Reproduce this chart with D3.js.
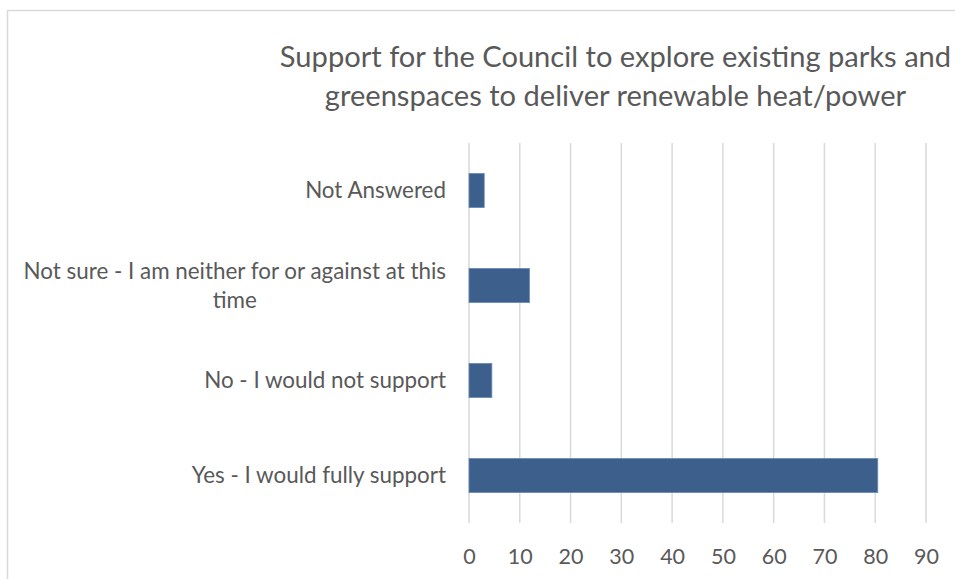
<!DOCTYPE html>
<html>
<head>
<meta charset="utf-8">
<script src="https://cdn.jsdelivr.net/npm/d3@7"></script>
<style>
  html, body { margin: 0; padding: 0; background: #fff; }
  svg { display: block; }
  text { font-family: Lato, Carlito, Calibri, "Open Sans", sans-serif; fill: #595959; }
</style>
</head>
<body>
<svg id="chart" width="955" height="579"></svg>
<script>
// Survey responses (percent of respondents)
const categories = [
  "Not Answered",
  "Not sure - I am neither for or against at this time",
  "No - I would not support",
  "Yes - I would fully support"
];
const values = [3.0, 11.9, 4.5, 80.5];
const xTicks = [0, 10, 20, 30, 40, 50, 60, 70, 80, 90];
const titleLines = [
  "Support for the Council to explore existing parks and",
  "greenspaces to deliver renewable heat/power"
];

const svg = d3.select("#chart");
const W = 955, H = 579;
const plot = { left: 469, right: 926, top: 143, bottom: 523 };

// outer chart frame (extends past the visible window)
svg.append("rect")
  .attr("x", 7.5).attr("y", 10.5)
  .attr("width", W + 20).attr("height", H + 20)
  .attr("fill", "#fff").attr("stroke", "#d9d9d9").attr("stroke-width", 1.5);

// title
svg.append("g").selectAll("text")
  .data(titleLines).join("text")
  .attr("x", 615.5)
  .attr("y", (d, i) => 67 + i * 39)
  .attr("text-anchor", "middle")
  .attr("font-size", 29.1)
  .text(d => d);

const x = d3.scaleLinear().domain([0, 90]).range([plot.left, plot.right]);
const y = d3.scaleBand().domain(categories)
  .range([plot.top, plot.bottom])
  .paddingInner(0.64).paddingOuter(0.32);

// vertical gridlines
svg.append("g").selectAll("line")
  .data(xTicks).join("line")
  .attr("x1", d => x(d)).attr("x2", d => x(d))
  .attr("y1", plot.top).attr("y2", plot.bottom)
  .attr("stroke", "#d9d9d9").attr("stroke-width", 1.5);

// bars
svg.append("g").selectAll("rect")
  .data(categories).join("rect")
  .attr("x", x(0))
  .attr("y", d => y(d))
  .attr("width", (d, i) => x(values[i]) - x(0))
  .attr("height", y.bandwidth())
  .attr("fill", "#3c5f8c")
  .attr("stroke", "#6a8bb8").attr("stroke-width", 0.8);

// x axis tick labels
const xAxis = d3.axisBottom(x).tickValues(xTicks).tickSize(0).tickPadding(0);
const gx = svg.append("g").attr("transform", `translate(0,${plot.bottom})`).call(xAxis);
gx.select(".domain").remove();
gx.selectAll("text")
  .attr("dy", null)
  .attr("y", 41)
  .attr("font-size", 21.5)
  .attr("font-family", null)
  .attr("fill", "#595959");
gx.attr("font-family", null).attr("font-size", null);

// category labels, wrapped at a fixed width; lines centred within a right-aligned block
const labelRight = 446, maxLabelWidth = 435, lineH = 29, labelSize = 22.4;
const labelG = svg.append("g");
categories.forEach(cat => {
  const words = cat.split(" ");
  const probe = labelG.append("text").attr("font-size", labelSize);
  const lines = [];
  let cur = [];
  words.forEach(w => {
    const trial = cur.concat(w).join(" ");
    probe.text(trial);
    if (probe.node().getComputedTextLength() > maxLabelWidth && cur.length) {
      lines.push(cur.join(" "));
      cur = [w];
    } else {
      cur.push(w);
    }
  });
  lines.push(cur.join(" "));
  probe.remove();

  const widths = lines.map(l => {
    const t = labelG.append("text").attr("font-size", labelSize).text(l);
    const w = t.node().getComputedTextLength();
    t.remove();
    return w;
  });
  const blockW = d3.max(widths);
  const cx = labelRight - blockW / 2;
  const cy = y(cat) + y.bandwidth() / 2;
  const y0 = cy - (lines.length - 1) * lineH / 2;
  labelG.selectAll(null).data(lines).enter().append("text")
    .attr("x", cx)
    .attr("y", (d, i) => y0 + i * lineH)
    .attr("dy", "0.35em")
    .attr("text-anchor", "middle")
    .attr("font-size", labelSize)
    .text(d => d);
});
</script>
</body>
</html>
